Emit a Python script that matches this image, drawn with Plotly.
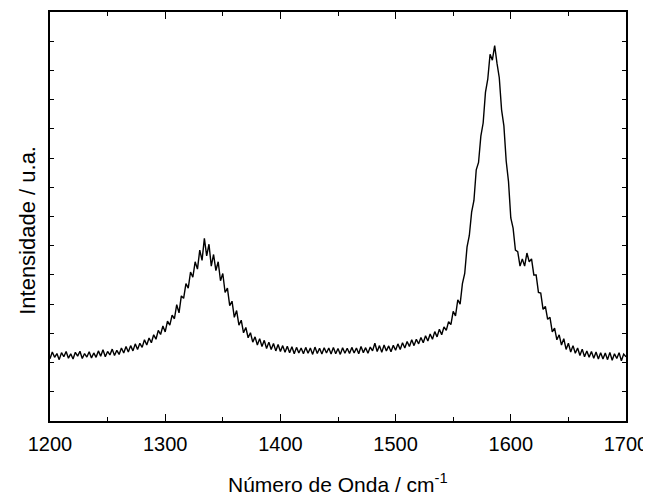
import plotly.graph_objects as go

# Wavenumber grid (cm^-1), 2 cm^-1 step
wavenumber = list(range(1200, 1701, 2))

# Intensity (a.u.), 10 values per row (20 cm^-1 per row)
intensity = [
    2.13, 2.36, 2.18, 2.31, 2.10, 2.34, 2.20, 2.38, 2.15, 2.30,   # 1200-1218
    2.12, 2.35, 2.22, 2.39, 2.14, 2.31, 2.19, 2.37, 2.16, 2.33,   # 1220-1238
    2.18, 2.40, 2.22, 2.44, 2.20, 2.38, 2.26, 2.46, 2.24, 2.42,   # 1240-1258
    2.28, 2.50, 2.33, 2.55, 2.36, 2.58, 2.40, 2.64, 2.45, 2.66,   # 1260-1278
    2.52, 2.78, 2.60, 2.84, 2.68, 2.95, 2.80, 3.10, 2.96, 3.25,   # 1280-1298
    3.05, 3.42, 3.28, 3.62, 3.50, 3.98, 3.70, 4.28, 4.20, 4.70,   # 1300-1318
    4.55, 5.10, 4.92, 5.45, 5.20, 5.85, 5.50, 6.25, 5.65, 6.05,   # 1320-1338
    5.30, 5.70, 5.15, 5.45, 4.80, 5.05, 4.40, 4.55, 3.95, 4.10,   # 1340-1358
    3.55, 3.78, 3.28, 3.45, 3.02, 3.20, 2.85, 3.02, 2.70, 2.88,   # 1360-1378
    2.60, 2.82, 2.55, 2.76, 2.48, 2.70, 2.45, 2.65, 2.40, 2.62,   # 1380-1398
    2.38, 2.58, 2.35, 2.56, 2.34, 2.54, 2.30, 2.52, 2.33, 2.50,   # 1400-1418
    2.30, 2.52, 2.32, 2.50, 2.28, 2.53, 2.31, 2.49, 2.29, 2.51,   # 1420-1438
    2.33, 2.50, 2.29, 2.52, 2.30, 2.48, 2.28, 2.51, 2.32, 2.49,   # 1440-1458
    2.31, 2.52, 2.33, 2.50, 2.30, 2.55, 2.34, 2.51, 2.32, 2.53,   # 1460-1478
    2.40, 2.66, 2.38, 2.58, 2.35, 2.60, 2.40, 2.57, 2.37, 2.59,   # 1480-1498
    2.42, 2.64, 2.45, 2.68, 2.50, 2.72, 2.55, 2.78, 2.58, 2.80,   # 1500-1518
    2.64, 2.86, 2.68, 2.92, 2.74, 2.98, 2.80, 3.06, 2.88, 3.14,   # 1520-1538
    2.95, 3.22, 3.10, 3.40, 3.30, 3.75, 3.60, 4.15, 4.00, 4.70,   # 1540-1558
    5.05, 5.95, 6.35, 7.15, 7.55, 8.60, 8.85, 9.75, 10.20, 11.25, # 1560-1578
    11.70, 12.55, 12.35, 12.85, 12.25, 11.75, 10.65, 10.10, 8.90, 8.20,  # 1580-1598
    6.95, 6.60, 5.85, 5.80, 5.30, 5.55, 5.30, 5.75, 5.45, 5.55,   # 1600-1618
    5.00, 5.00, 4.40, 4.38, 3.82, 3.92, 3.48, 3.55, 3.05, 3.18,   # 1620-1638
    2.78, 2.95, 2.60, 2.82, 2.45, 2.66, 2.36, 2.58, 2.32, 2.50,   # 1640-1658
    2.24, 2.46, 2.20, 2.40, 2.18, 2.38, 2.15, 2.36, 2.12, 2.34,   # 1660-1678
    2.12, 2.33, 2.10, 2.35, 2.08, 2.30, 2.14, 2.34, 2.06, 2.29,   # 1680-1698
    2.20,                                                         # 1700
]

x_ticks = [1200, 1300, 1400, 1500, 1600, 1700]
x_title = "Número de Onda / cm<sup>-1</sup>"
y_title = "Intensidade / u.a."

font = "Liberation Sans, Arial, sans-serif"

fig = go.Figure()
fig.add_trace(go.Scatter(
    x=wavenumber, y=intensity, mode="lines",
    line=dict(color="black", width=1.4),
    showlegend=False, hoverinfo="skip",
))

# page body has an 8px default margin, so the figure is sized/offset to compensate
fig.update_layout(
    width=643, height=488,
    margin=dict(l=42, r=25, t=4, b=75),
    paper_bgcolor="white", plot_bgcolor="white",
    font=dict(family=font, size=20, color="black"),
    xaxis=dict(
        range=[1200, 1700], tickvals=x_ticks, ticktext=[str(v) for v in x_ticks],
        ticks="inside", ticklen=7, tickwidth=1.3, tickcolor="black",
        minor=dict(dtick=50, tick0=1200, ticks="inside", ticklen=4, tickwidth=1.3, tickcolor="black"),
        showline=True, linecolor="black", linewidth=1.5, mirror="ticks",
        showgrid=False, zeroline=False, automargin=False,
        ticklabelstandoff=4,
        tickfont=dict(family=font, size=20, color="black"),
    ),
    yaxis=dict(
        range=[0, 14], dtick=1, tick0=0,
        ticks="inside", ticklen=4, tickwidth=1.3, tickcolor="black",
        showticklabels=False,
        showline=True, linecolor="black", linewidth=1.5, mirror="ticks",
        showgrid=False, zeroline=False, automargin=False,
    ),
    annotations=[
        dict(text=x_title, xref="paper", yref="paper", x=0.5, y=0,
             xanchor="center", yanchor="middle", yshift=-62, showarrow=False,
             font=dict(family=font, size=21, color="black")),
        dict(text=y_title, xref="paper", yref="paper", x=0, y=0.465,
             xanchor="center", yanchor="middle", xshift=-22, textangle=-90,
             showarrow=False, font=dict(family=font, size=22, color="black")),
    ],
)

fig.write_html("out.html")
